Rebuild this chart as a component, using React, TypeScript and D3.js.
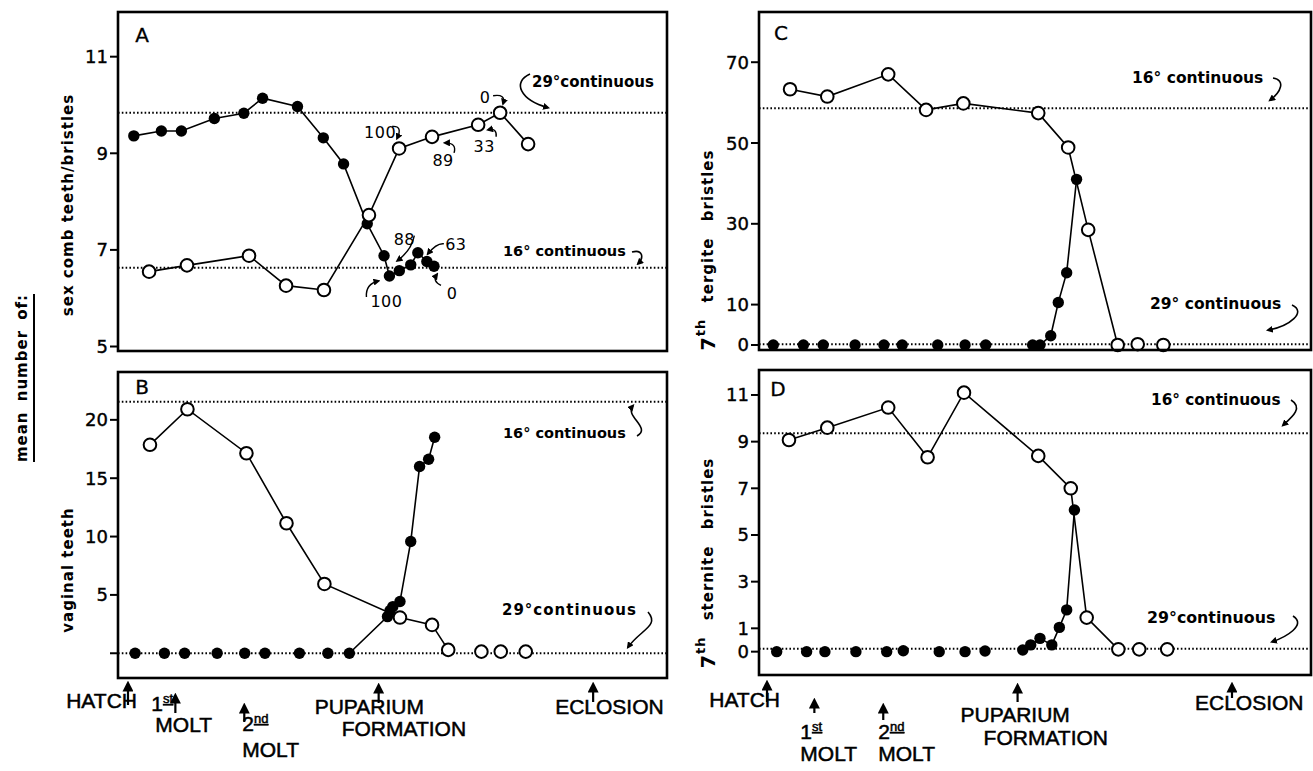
import React from 'react'
import * as d3 from 'd3'

// developmental time in hours after larval hatching (approximate)
const stageLabels = [['HATCH'], ['1st', 'MOLT'], ['2nd', 'MOLT'], ['PUPARIUM', 'FORMATION'], ['ECLOSION']]
const stageHours = [0, 22, 54, 116.4, 216]

// A: sex comb teeth / bristles
const aTicks = [5, 7, 9, 11]
const aCont16 = 6.63
const aCont29 = 9.84
const aFilledHours = [2.7, 15.5, 24.8, 40.1, 53.8, 62.5, 78.7, 90.7, 100.1, 111.1, 118.9, 121.4, 126.0, 131.3, 134.6, 138.8, 142.1]
const aFilledValues = [9.36, 9.46, 9.46, 9.72, 9.83, 10.14, 9.97, 9.32, 8.78, 7.54, 6.88, 6.46, 6.57, 6.69, 6.94, 6.76, 6.66]
const aFilledNotes = ['', '', '', '', '', '', '', '', '', '', '', '100', '88', '', '63', '', '0']
const aOpenHours = [9.8, 27.4, 56.2, 73.4, 91.0, 111.9, 125.9, 141.2, 162.6, 172.8, 185.8]
const aOpenValues = [6.55, 6.68, 6.88, 6.26, 6.17, 7.72, 9.10, 9.34, 9.59, 9.84, 9.19]
const aOpenNotes = ['', '', '', '', '', '', '100', '89', '33', '0', '']

// B: vaginal teeth
const bTicks = [0, 5, 10, 15, 20]
const bTickLabels = ['', '5', '10', '15', '20']
const bCont16 = 21.56
const bCont29 = 0
const bFilledHours = [3.3, 16.9, 26.3, 41.4, 54.2, 63.6, 79.6, 92.8, 102.8, 120.5, 121.7, 123.0, 126.3, 131.3, 135.4, 139.6, 142.4]
const bFilledValues = [0, 0, 0, 0, 0, 0, 0, 0, 0, 3.14, 3.66, 4.0, 4.43, 9.57, 16.0, 16.63, 18.51]
const bOpenHours = [10.2, 27.6, 55.0, 73.6, 91.2, 126.3, 141.2, 148.7, 164.1, 173.1, 184.7]
const bOpenValues = [17.86, 20.91, 17.14, 11.14, 5.94, 3.06, 2.43, 0.29, 0.14, 0.14, 0.14]

// C: 7th tergite bristles
const cTicks = [0, 10, 30, 50, 70]
const cCont16 = 58.6
const cCont29 = 0.2
const cFilledHours = [2.9, 16.9, 26.1, 40.9, 54.3, 62.8, 79.3, 92.0, 101.6, 123.4, 126.8, 131.8, 135.3, 139.2, 143.8]
const cFilledValues = [0, 0, 0, 0, 0, 0, 0, 0, 0, 0, 0, 2.3, 10.5, 17.9, 41.0]
const cOpenHours = [10.7, 28.0, 56.3, 73.9, 91.2, 126.0, 139.9, 149.2, 162.9, 172.2, 184.1]
const cOpenValues = [63.3, 61.5, 67.0, 58.2, 59.8, 57.4, 48.9, 28.5, 0, 0.2, 0]

// D: 7th sternite bristles
const dTicks = [0, 1, 3, 5, 7, 9, 11]
const dCont16 = 9.36
const dCont29 = 0.12
const dFilledHours = [4.5, 18.4, 26.9, 41.3, 55.6, 63.3, 80.0, 92.0, 101.3, 118.8, 122.5, 126.8, 132.3, 135.8, 139.2, 142.8]
const dFilledValues = [0, 0, 0, 0, 0, 0.04, 0, 0, 0.03, 0.07, 0.29, 0.57, 0.29, 1.04, 1.79, 6.07]
const dOpenHours = [10.2, 28.0, 56.3, 74.6, 91.5, 126.0, 141.1, 148.5, 163.2, 172.9, 185.9]
const dOpenValues = [9.07, 9.6, 10.46, 8.33, 11.1, 8.39, 7.0, 1.46, 0.1, 0.1, 0.1]

const labelFont = 'DejaVu Sans'
const letterFont = 'Liberation Sans'

const panels = [
  {
    key: 'A', box: [118, 12, 667, 351], hourDomain: [-4.64, 250.3], yDomain: [4.907, 11.925],
    ticks: aTicks, tickLabels: aTicks.map(String), c16: aCont16, c29: aCont29,
    filled: { h: aFilledHours, v: aFilledValues, join: [0, 16], notes: aFilledNotes },
    open: { h: aOpenHours, v: aOpenValues, join: [0, 10], notes: aOpenNotes },
    letter: [142, 35],
    s16: '16° continuous', f16: 14.5, t16: [503, 256], a16: [632, 252, 643, 249, 644, 258, 638, -4],
    s29: '29°continuous', f29: 15, ls29: 0, t29: [532, 87], a29: [530, 74, 512, 82, 520, 100, 548, -5],
  },
  {
    key: 'B', box: [118, 372, 667, 678], hourDomain: [-4.64, 250.3], yDomain: [-2.12, 24.1],
    ticks: bTicks, tickLabels: bTickLabels, c16: bCont16, c29: bCont29,
    filled: { h: bFilledHours, v: bFilledValues, join: [8, 16] },
    open: { h: bOpenHours, v: bOpenValues, join: [0, 7] },
    letter: [142, 387],
    s16: '16° continuous', f16: 14.5, t16: [503, 438], a16: [637, 436, 652, 428, 624, 416, 633, 4],
    s29: '29°continuous', f29: 15, ls29: 1, t29: [502, 615], a29: [648, 612, 660, 626, 640, 630, 628, -6],
  },
  {
    key: 'C', box: [759, 12, 1311, 350], hourDomain: [-3.72, 252.7], yDomain: [-1.24, 82.43],
    ticks: cTicks, tickLabels: cTicks.map(String), c16: cCont16, c29: cCont29,
    filled: { h: cFilledHours, v: cFilledValues, join: [9, 14] },
    open: { h: cOpenHours, v: cOpenValues, join: [0, 8] },
    letter: [781, 33],
    s16: '16° continuous', f16: 15.5, t16: [1132, 83], a16: [1273, 78, 1286, 80, 1281, 92, 1270, -8],
    s29: '29° continuous', f29: 15.5, ls29: 0, t29: [1150, 309], a29: [1292, 305, 1307, 312, 1290, 326, 1268, -14],
  },
  {
    key: 'D', box: [759, 370, 1311, 675], hourDomain: [-3.72, 252.7], yDomain: [-1.0, 12.07],
    ticks: dTicks, tickLabels: dTicks.map(String), c16: dCont16, c29: dCont29,
    filled: { h: dFilledHours, v: dFilledValues, join: [9, 15] },
    open: { h: dOpenHours, v: dOpenValues, join: [0, 8] },
    letter: [778, 389],
    s16: '16° continuous', f16: 15.3, t16: [1151, 405], a16: [1291, 400, 1304, 408, 1291, 418, 1283, -8],
    s29: '29°continuous', f29: 15.8, ls29: 0, t29: [1147, 623], a29: [1293, 616, 1307, 625, 1286, 637, 1272, -7],
  },
]

// offsets of the small percentage notes in panel A (text dx,dy; arrow path relative to point)
const noteLayout: Record<string, { t: number[]; a: number[] }> = {
  'open-6': { t: [-19, -16], a: [-7, -22, 4, -23, -2, -10] },
  'open-7': { t: [11, 24], a: [22, 16, 25, 6, 13, 6] },
  'open-8': { t: [6, 22], a: [18, 12, 19, 3, 10, 5] },
  'open-9': { t: [-15, -15], a: [-7, -17, 6, -19, 3, -9] },
  'filled-11': { t: [-3, 26], a: [-23, 21, -24, 8, -11, 5] },
  'filled-12': { t: [5, -31], a: [15, -35, 12, -20, -2, -10] },
  'filled-14': { t: [38, -8], a: [26, -9, 19, -10, 10, 1] },
  'filled-16': { t: [18, 27], a: [7, 19, -2, 15, 3, 8] },
}

const bottomLayout = {
  left: {
    arrows: [[681, 705], [693, 713], [703, 722], [683, 703], [682, 702]],
    lines: [[[9, 708, 'end']], [[-24, 711, 'start'], [-20, 732, 'start']], [[-2, 731, 'start'], [-2, 757, 'start']],
      [[-64, 714, 'start'], [-37, 736, 'start']], [[-38, 714, 'start']]],
  },
  right: {
    arrows: [[680, 702], [698, 713], [703, 720], [683, 702], [682, 698]],
    lines: [[[13, 707, 'end']], [[-14, 739, 'start'], [-14, 761, 'start']], [[-5, 739, 'start'], [-5, 761, 'start']],
      [[-57, 722, 'start'], [-34, 745, 'start']], [[-37, 710, 'start']]],
  },
}

const Ordinal = ({ s }: { s: string }) => {
  const m = s.match(/^(\d)(st|nd)$/)
  if (!m) return <>{s}</>
  return (
    <>
      {m[1]}
      <tspan fontSize={13} dy={-8} textDecoration='underline'>{m[2]}</tspan>
    </>
  )
}

const Panel = ({ p }: { p: any }) => {
  const [x0, y0, x1, y1] = p.box
  const x = d3.scaleLinear().domain(p.hourDomain).range([x0, x1])
  const y = d3.scaleLinear().domain(p.yDomain).range([y1, y0])

  const seriesLine = (s: any) => {
    const idx = d3.range(s.join[0], s.join[1] + 1)
    return d3.line<number>().x(i => x(s.h[i])).y(i => y(s.v[i]))(idx) || ''
  }

  const curl = (a: number[], level: number) => {
    const ey = y(level) + a[7]
    return `M${a[0]},${a[1]} C${a[2]},${a[3]} ${a[4]},${a[5]} ${a[6]},${ey}`
  }

  const notes: JSX.Element[] = []
  ;(['open', 'filled'] as const).forEach(kind => {
    const s = p[kind]
    if (!s.notes) return
    s.notes.forEach((n: string, i: number) => {
      if (!n) return
      const lay = noteLayout[`${kind}-${i}`]
      const px = x(s.h[i])
      const py = y(s.v[i])
      const a = lay.a
      notes.push(
        <g key={`${kind}-${i}`}>
          <text x={px + lay.t[0]} y={py + lay.t[1]} textAnchor='middle' dominantBaseline='central'
            fontFamily={labelFont} fontSize={16} letterSpacing={0.5}>{n}</text>
          <path d={`M${px + a[0]},${py + a[1]} Q${px + a[2]},${py + a[3]} ${px + a[4]},${py + a[5]}`}
            fill='none' stroke='black' strokeWidth={1.4} markerEnd='url(#head)' />
        </g>
      )
    })
  })

  return (
    <g>
      {/* continuous reference levels */}
      {[p.c16, p.c29].map((lv: number, i: number) => (
        <line key={i} x1={x0} x2={x1} y1={y(lv)} y2={y(lv)} stroke='black' strokeWidth={2} strokeDasharray='1.6 2.2' />
      ))}
      <path d={seriesLine(p.open)} fill='none' stroke='black' strokeWidth={1.6} />
      <path d={seriesLine(p.filled)} fill='none' stroke='black' strokeWidth={1.6} />
      {p.filled.h.map((h: number, i: number) => (
        <circle key={'f' + i} cx={x(h)} cy={y(p.filled.v[i])} r={5.7} fill='black' />
      ))}
      {p.open.h.map((h: number, i: number) => (
        <circle key={'o' + i} cx={x(h)} cy={y(p.open.v[i])} r={6.3} fill='white' stroke='black' strokeWidth={2} />
      ))}
      <rect x={x0} y={y0} width={x1 - x0} height={y1 - y0} fill='none' stroke='black' strokeWidth={2.6} />
      {p.ticks.map((t: number, i: number) => (
        <g key={'t' + t}>
          <line x1={x0 - 8} x2={x0} y1={y(t)} y2={y(t)} stroke='black' strokeWidth={2} />
          <text x={x0 - 10} y={y(t)} textAnchor='end' dominantBaseline='central' fontFamily={labelFont} fontSize={18}
            stroke='black' strokeWidth={0.4}>
            {p.tickLabels[i]}
          </text>
        </g>
      ))}
      <text x={p.letter[0]} y={p.letter[1]} textAnchor='middle' dominantBaseline='central' fontFamily={labelFont}
        fontSize={20} stroke='black' strokeWidth={0.3}>{p.key}</text>
      <text x={p.t16[0]} y={p.t16[1]} fontFamily={labelFont} fontWeight='bold' fontSize={p.f16}>{p.s16}</text>
      <text x={p.t29[0]} y={p.t29[1]} fontFamily={labelFont} fontWeight='bold' fontSize={p.f29} letterSpacing={p.ls29}>{p.s29}</text>
      <path d={curl(p.a16, p.c16)} fill='none' stroke='black' strokeWidth={1.6} markerEnd='url(#head)' />
      <path d={curl(p.a29, p.c29)} fill='none' stroke='black' strokeWidth={1.6} markerEnd='url(#head)' />
      {notes}
    </g>
  )
}

const StageAxis = ({ side, p }: { side: 'left' | 'right'; p: any }) => {
  const lay = bottomLayout[side]
  const x = d3.scaleLinear().domain(p.hourDomain).range([p.box[0], p.box[2]])
  return (
    <g>
      {stageHours.map((h, i) => {
        const ax = x(h)
        const [ya, yb] = lay.arrows[i]
        return (
          <g key={i}>
            <line x1={ax} x2={ax} y1={yb} y2={ya + 4} stroke='black' strokeWidth={2.2} markerEnd='url(#bighead)' />
            {stageLabels[i].map((s, j) => {
              const [dx, by, anchor] = lay.lines[i][j] as [number, number, string]
              return (
                <text key={j} x={ax + dx} y={by} textAnchor={anchor} fontFamily={letterFont} fontSize={21}
                  stroke='black' strokeWidth={0.5}>
                  <Ordinal s={s} />
                </text>
              )
            })}
          </g>
        )
      })}
    </g>
  )
}

const RotLabel = ({ x, y, gap = 0, children }: { x: number; y: number; gap?: number; children: any }) => (
  <text transform={`translate(${x},${y}) rotate(-90)`} textAnchor='middle' dominantBaseline='central'
    fontFamily={labelFont} fontWeight='bold' fontSize={15} letterSpacing={1} wordSpacing={gap}>
    {children}
  </text>
)

export default function App() {
  return (
    <svg width={1313} height={771} style={{ position: 'absolute', left: 0, top: 0, background: 'white' }}>
      <defs>
        <marker id='head' viewBox='0 0 10 10' refX='7' refY='5' markerWidth='7' markerHeight='7'
          markerUnits='userSpaceOnUse' orient='auto'>
          <path d='M0,0 L10,5 L0,10 z' fill='black' />
        </marker>
        <marker id='bighead' viewBox='0 0 10 10' refX='6' refY='5' markerWidth='11' markerHeight='11'
          markerUnits='userSpaceOnUse' orient='auto'>
          <path d='M0,0 L10,5 L0,10 z' fill='black' />
        </marker>
      </defs>
      {panels.map(p => <Panel key={p.key} p={p} />)}
      <StageAxis side='left' p={panels[1]} />
      <StageAxis side='right' p={panels[3]} />

      <RotLabel x={22} y={378} gap={4}>mean number of:</RotLabel>
      <line x1={34} x2={34} y1={294} y2={462} stroke='black' strokeWidth={2} />
      <RotLabel x={68} y={205}>sex comb teeth/bristles</RotLabel>
      <RotLabel x={68} y={570}>vaginal teeth</RotLabel>
      <RotLabel x={708} y={250} gap={10}>
        <tspan fontSize={19}>7</tspan><tspan fontSize={13} dy={-8}>th</tspan><tspan dy={8}> tergite bristles</tspan>
      </RotLabel>
      <RotLabel x={708} y={563} gap={10}>
        <tspan fontSize={19}>7</tspan><tspan fontSize={13} dy={-8}>th</tspan><tspan dy={8}> sternite bristles</tspan>
      </RotLabel>
    </svg>
  )
}
